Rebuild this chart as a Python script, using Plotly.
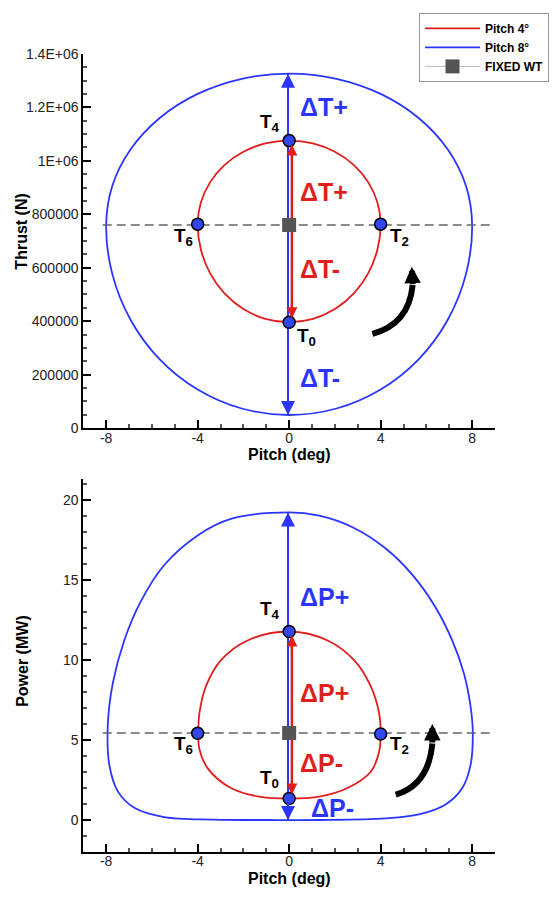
import plotly.graph_objects as go

# ---------------- data ----------------
# Top panel: Thrust (N) vs Pitch (deg)
p4_thrust_pitch = [-4.0, -3.86, -3.46, -2.83, -2.0, -1.04, 0.0, 1.04, 2.0, 2.83, 3.46, 3.86, 4.0,
                   3.86, 3.46, 2.83, 2.0, 1.04, 0.0, -1.04, -2.0, -2.83, -3.46, -3.86, -4.0]
p4_thrust = [763000, 843900, 919250, 984000, 1033600, 1064900, 1075500, 1064900, 1033600, 984000, 919250, 843900, 763000,
             668000, 579500, 503500, 445200, 408500, 396000, 408500, 445200, 503500, 579500, 668000, 763000]

p8_thrust_pitch = [-8.0, -7.73, -6.93, -5.66, -4.0, -2.07, 0.0, 2.07, 4.0, 5.66, 6.93, 7.73, 8.0,
                   7.73, 6.93, 5.66, 4.0, 2.07, 0.0, -2.07, -4.0, -5.66, -6.93, -7.73, -8.0]
p8_thrust = [760000, 906500, 1043000, 1160200, 1250200, 1306700, 1326000, 1306700, 1250200, 1160200, 1043000, 906500, 760000,
             575900, 404500, 257300, 144300, 73200, 49000, 73200, 144300, 257300, 404500, 575900, 760000]

# Bottom panel: Power (MW) vs Pitch (deg)
p4_power_pitch = [-3.97, -3.92, -3.64, -2.98, -1.82, 0.0, 1.68, 2.84, 3.57, 3.93, 4.0,
                  3.93, 3.57, 2.55, 1.38, 0.0, -1.38, -2.55, -3.56, -3.93, -3.97]
p4_power = [5.44, 6.71, 8.36, 10.0, 11.23, 11.79, 11.23, 10.0, 8.36, 6.71, 5.38,
            4.25, 3.02, 2.0, 1.48, 1.34, 1.48, 2.0, 3.23, 4.46, 5.44]

p8_power_pitch = [-7.93, -7.71, -7.21, -6.48, -5.46, -4.0, -2.55, 0.0, 1.31, 2.77, 4.22, 5.39, 6.41, 7.13, 7.64, 7.93, 8.03,
                  7.93, 7.57, 6.84, 5.68, 4.22, 1.31, -1.0, -3.28, -5.46, -6.77, -7.49, -7.86, -7.93]
p8_power = [5.89, 8.56, 11.23, 13.69, 15.95, 17.80, 18.83, 19.24, 19.03, 18.31, 16.98, 15.33, 13.28, 11.23, 9.17, 7.12, 5.48,
            3.43, 2.0, 0.97, 0.35, 0.10, 0.0, 0.0, 0.02, 0.18, 0.76, 1.79, 3.43, 5.89]

# Key points T0, T2, T4, T6 (pitch 4 deg)
t_names = ["T<sub>0</sub>", "T<sub>2</sub>", "T<sub>4</sub>", "T<sub>6</sub>"]
t_pitch = [0.0, 4.0, 0.0, -4.0]
t_thrust = [396000, 763000, 1075500, 763000]
t_power = [1.34, 5.38, 11.79, 5.42]

# Fixed wind turbine
fixed_pitch = [0.0]
fixed_thrust = [760000]
fixed_power = [5.44]
mean_line_pitch = [-8.15, 8.9]

# Axis ticks
x_ticks = [-8, -4, 0, 4, 8]
x_ticktext = ["-8", "-4", "0", "4", "8"]
thrust_ticks = [0, 200000, 400000, 600000, 800000, 1000000, 1200000, 1400000]
thrust_ticktext = ["0", "200000", "400000", "600000", "800000", "1E+06", "1.2E+06", "1.4E+06"]
power_ticks = [0, 5, 10, 15, 20]
power_ticktext = ["0", "5", "10", "15", "20"]

# ---------------- styles ----------------
RED = "#e01e1e"
BLUE = "#2a35ff"
MBLUE = "#3347ef"
FONT = "Liberation Sans"
W, H = 552, 897

fig = go.Figure()

def add_panel(xa, ya, p4x, p4y, p8x, p8y, ty, fy, show):
    fig.add_trace(go.Scatter(x=p4x, y=p4y, mode="lines", name="Pitch 4°", line=dict(color=RED, width=1.8, shape="spline"),
                             xaxis=xa, yaxis=ya, showlegend=show, legendrank=1))
    fig.add_trace(go.Scatter(x=p8x, y=p8y, mode="lines", name="Pitch 8°", line=dict(color=BLUE, width=1.8, shape="spline"),
                             xaxis=xa, yaxis=ya, showlegend=show, legendrank=2))
    fig.add_trace(go.Scatter(x=mean_line_pitch, y=[fy[0], fy[0]], mode="lines",
                             line=dict(color="#666666", width=1.6, dash="9px,5px"),
                             xaxis=xa, yaxis=ya, showlegend=False, hoverinfo="skip"))
    # vertical delta arrow shafts
    fig.add_trace(go.Scatter(x=[-0.05, -0.05], y=[min(p8y), max(p8y)], mode="lines",
                             line=dict(color=BLUE, width=2), xaxis=xa, yaxis=ya, showlegend=False, hoverinfo="skip"))
    fig.add_trace(go.Scatter(x=[0.12, 0.12], y=[ty[0], ty[2]], mode="lines",
                             line=dict(color=RED, width=2.5), xaxis=xa, yaxis=ya, showlegend=False, hoverinfo="skip"))
    fig.add_trace(go.Scatter(x=fixed_pitch, y=fy, mode="lines+markers", name="FIXED WT",
                             line=dict(color="#bbbbbb", width=1),
                             marker=dict(symbol="square", size=14, color="#555555"),
                             xaxis=xa, yaxis=ya, showlegend=show, legendrank=3))
    fig.add_trace(go.Scatter(x=t_pitch, y=ty, mode="markers",
                             marker=dict(symbol="circle", size=12, color=MBLUE, line=dict(color="black", width=1.5)),
                             xaxis=xa, yaxis=ya, showlegend=False))

add_panel("x", "y", p4_thrust_pitch, p4_thrust, p8_thrust_pitch, p8_thrust, t_thrust, fixed_thrust, True)
add_panel("x2", "y2", p4_power_pitch, p4_power, p8_power_pitch, p8_power, t_power, fixed_power, False)

annotations = []
shapes = []

def arrowhead(xr, yr, x, y, up, color, size, standoff=0):
    annotations.append(dict(x=x, y=y, xref=xr, yref=yr, ax=0, ay=20 if up else -20, text="",
                            showarrow=True, arrowhead=2, arrowsize=size, arrowwidth=2,
                            arrowcolor=color, standoff=standoff))

def label(xr, yr, x, y, text, color, size, anchor="left"):
    annotations.append(dict(x=x, y=y, xref=xr, yref=yr, text=text, showarrow=False,
                            xanchor=anchor, yanchor="middle",
                            font=dict(family=FONT, size=size, color=color, weight="bold")))

# top panel arrows
arrowhead("x", "y", -0.05, max(p8_thrust), True, BLUE, 1.4)
arrowhead("x", "y", -0.05, min(p8_thrust), False, BLUE, 1.4)
arrowhead("x", "y", 0.12, t_thrust[2], True, RED, 1.1, 4)
arrowhead("x", "y", 0.12, t_thrust[0], False, RED, 1.1, 4)
# bottom panel arrows
arrowhead("x2", "y2", -0.05, max(p8_power), True, BLUE, 1.4)
arrowhead("x2", "y2", -0.05, min(p8_power), False, BLUE, 1.4)
arrowhead("x2", "y2", 0.12, t_power[2], True, RED, 1.1, 4)
arrowhead("x2", "y2", 0.12, t_power[0], False, RED, 1.1, 4)

# delta labels
label("x", "y", 0.37, 1200000, "ΔT+", BLUE, 25)
label("x", "y", 0.37, 884000, "ΔT+", RED, 25)
label("x", "y", 0.37, 594000, "ΔT-", RED, 25)
label("x", "y", 0.37, 186000, "ΔT-", BLUE, 25)
label("x2", "y2", 0.37, 13.96, "ΔP+", BLUE, 25)
label("x2", "y2", 0.37, 7.96, "ΔP+", RED, 25)
label("x2", "y2", 0.37, 3.58, "ΔP-", RED, 25)
label("x2", "y2", 0.86, 0.72, "ΔP-", BLUE, 25)

# T labels
for xr, yr, pos in [("x", "y", [(0.77, 340000), (4.83, 714000), (-0.84, 1140000), (-4.6, 714000)]),
                    ("x2", "y2", [(-0.84, 2.55), (4.83, 4.70), (-0.84, 13.13), (-4.6, 4.70)])]:
    for name, (px, py) in zip(t_names, pos):
        label(xr, yr, px, py, name, "black", 19, "center")

# curved rotation arrows
shapes.append(dict(type="path", xref="x", yref="y", path="M 3.64,352750 Q 5.23,388400 5.40,535400",
                   line=dict(color="black", width=6)))
annotations.append(dict(x=5.36, y=604000, xref="x", yref="y", ax=1, ay=19, text="", showarrow=True,
                        arrowhead=2, arrowsize=0.55, arrowwidth=6, arrowcolor="black"))
shapes.append(dict(type="path", xref="x2", yref="y2", path="M 4.66,1.58 Q 6.10,2.20 6.26,4.78",
                   line=dict(color="black", width=6)))
annotations.append(dict(x=6.26, y=6.0, xref="x2", yref="y2", ax=0, ay=20, text="", showarrow=True,
                        arrowhead=2, arrowsize=0.55, arrowwidth=6, arrowcolor="black"))

# axis titles
title_font = dict(family=FONT, size=16, color="black", weight="bold")
annotations.append(dict(x=21.7 / W, y=1 - 228 / H, xref="paper", yref="paper", text="Thrust (N)", textangle=-90,
                        showarrow=False, font=title_font, xanchor="center", yanchor="middle"))
annotations.append(dict(x=21.7 / W, y=1 - 665 / H, xref="paper", yref="paper", text="Power (MW)", textangle=-90,
                        showarrow=False, font=title_font, xanchor="center", yanchor="middle"))
annotations.append(dict(x=289 / W, y=1 - 455 / H, xref="paper", yref="paper", text="Pitch (deg)",
                        showarrow=False, font=title_font, xanchor="center", yanchor="middle"))
annotations.append(dict(x=289 / W, y=1 - 886 / H, xref="paper", yref="paper", text="Pitch (deg)",
                        showarrow=False, font=title_font, xanchor="center", yanchor="middle"))

tickfont = dict(family=FONT, size=14, color="#222222")
axis_common = dict(showline=True, linecolor="black", linewidth=2, showgrid=False, zeroline=False,
                   ticks="inside", ticklen=8, tickwidth=1.5, tickcolor="black", tickfont=tickfont)
minor_common = dict(ticks="inside", ticklen=4, tickcolor="#555555", tick0=0)

xdom = [83.3 / W, 495 / W]
fig.update_layout(
    width=W, height=H,
    margin=dict(l=0, r=0, t=0, b=0),
    paper_bgcolor="white", plot_bgcolor="white",
    xaxis=dict(domain=xdom, range=[-9, 9], anchor="y", tickvals=x_ticks, ticktext=x_ticktext,
               ticklabelstandoff=-4, minor=dict(dtick=1, **minor_common), **axis_common),
    yaxis=dict(domain=[1 - 427.7 / H, 1 - 46.7 / H], range=[0, 1400000], anchor="x",
               tickvals=thrust_ticks, ticktext=thrust_ticktext,
               minor=dict(dtick=50000, **minor_common), **axis_common),
    xaxis2=dict(domain=xdom, range=[-9, 9], anchor="y2", tickvals=x_ticks, ticktext=x_ticktext,
                ticklabelstandoff=-5, minor=dict(dtick=1, **minor_common), **axis_common),
    yaxis2=dict(domain=[1 - 859.3 / H, 1 - 480 / H], range=[-2, 21.3], anchor="x2",
                tickvals=power_ticks, ticktext=power_ticktext,
                minor=dict(dtick=1, **minor_common), **axis_common),
    legend=dict(x=549 / W, y=1 - 5 / H, xanchor="right", yanchor="top", bgcolor="white",
                bordercolor="#999999", borderwidth=1, itemwidth=55,
                font=dict(family=FONT, size=12, color="black", weight="bold"), tracegroupgap=0),
    annotations=annotations,
    shapes=shapes,
    showlegend=True,
)

fig.write_html("out.html", config={"displayModeBar": False},
               post_script="document.body.style.margin='0';document.body.style.overflow='hidden';")
